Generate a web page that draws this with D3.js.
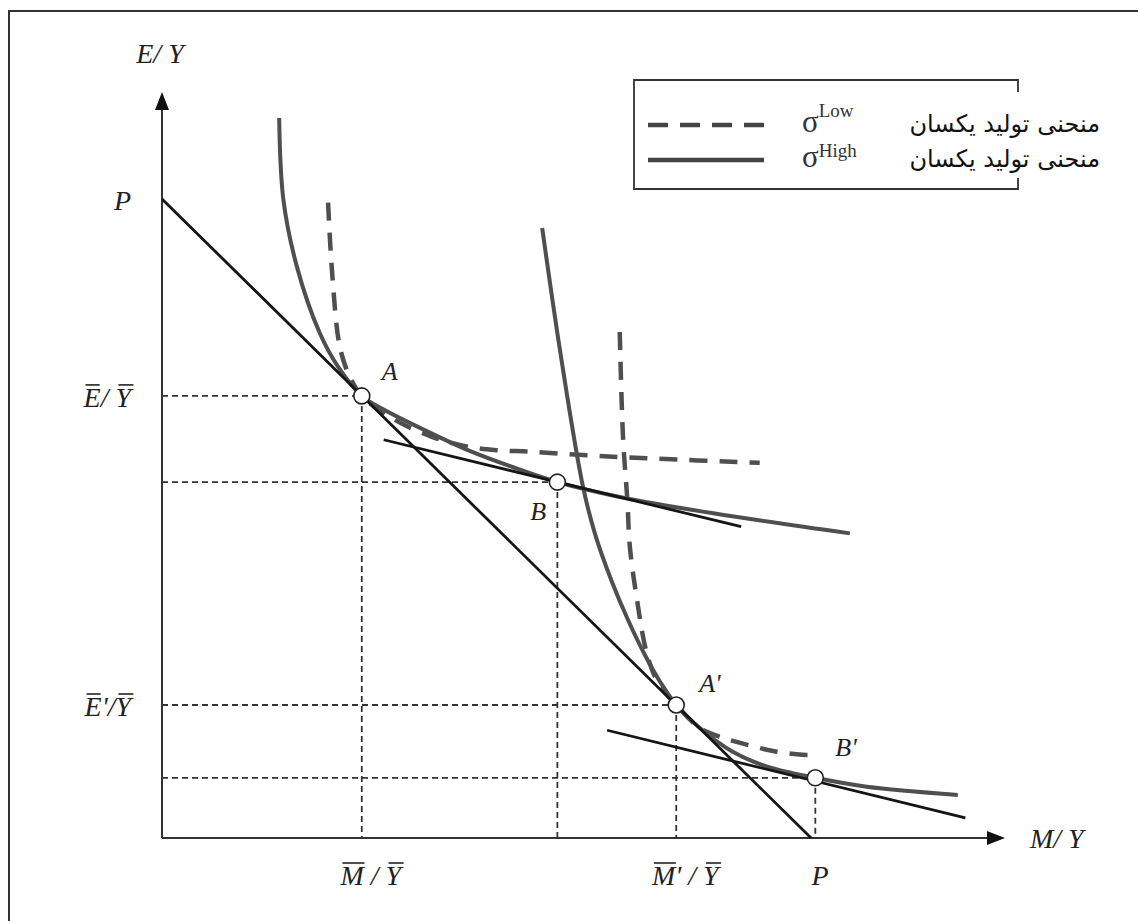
<!DOCTYPE html>
<html>
<head>
<meta charset="utf-8">
<script src="https://cdn.jsdelivr.net/npm/d3@7"></script>
<style>
  body { margin: 0; background: #fff; }
  svg text { font-family: "Liberation Serif", serif; }
</style>
</head>
<body>
<script>
const width = 1138;
const height = 921;

// diagram units: both axes run from 0 to 100
const highCurve1 = [[13.9,96.9],[14.4,85.9],[16.0,76.9],[18.7,68.0],[20.9,63.4],[23.7,59.5],
                    [25.9,57.9],[30.6,55.2],[36.5,52.1],[41.9,49.8],[46.9,47.9],[54.3,45.9],
                    [65.4,43.7],[81.6,41.0]];
const lowCurve1 = [[19.7,85.5],[20.2,75.8],[21.1,66.1],[22.3,62.0],[23.7,59.5],[27.6,56.3],
                   [31.8,54.1],[35.7,52.8],[39.7,52.2],[43.7,52.0],[50.4,51.5],[57.5,51.1],
                   [70.9,50.5]];
const highCurve2 = [[45.1,82.1],[47.3,65.0],[49.9,47.5],[51.4,40.8],[53.3,34.7],[55.3,29.3],
                    [57.3,24.6],[59.1,21.0],[61.0,17.9],[63.8,14.8],[67.7,11.6],[71.8,9.6],
                    [77.5,8.1],[83.6,6.9],[94.4,5.8]];
const lowCurve2 = [[54.3,68.1],[54.7,53.6],[55.2,45.5],[55.5,39.2],[56.3,32.4],[57.5,24.9],
                   [58.8,21.0],[61.0,17.9],[63.8,14.8],[66.2,13.6],[68.6,12.8],[72.5,11.7],
                   [76.0,11.2],[77.1,11.2]];
const budgetLine = [[0,86.0],[77.0,0]];
const tangentB = [[26.3,53.6],[68.7,41.9]];
const tangentB2 = [[52.8,14.5],[95.3,2.7]];

const points = [
  {name: "A",  x: 23.7, y: 59.5},
  {name: "B",  x: 46.9, y: 47.9},
  {name: "A'", x: 61.0, y: 17.9},
  {name: "B'", x: 77.5, y: 8.1}
];
const labelOffsets = {"A": [20, -16], "B": [-27, 38], "A'": [23, -13], "B'": [20, -22]};

const xTicks = [{x: 23.7, parts: [["M", true], [" / ", false], ["Y", true]]},
                {x: 61.0, parts: [["M", true], ["' / ", false], ["Y", true]]},
                {x: 77.0, parts: [["P", false]]}];
const yTicks = [{y: 59.5, parts: [["E", true], ["/ ", false], ["Y", true]]},
                {y: 17.9, parts: [["E", true], ["'/", false], ["Y", true]]},
                {y: 86.0, parts: [["P", false]]}];

const legendItems = [{dash: "20,12", sub: "Low",  raise: -15, text: "منحنی تولید یکسان"},
                     {dash: null,    sub: "High", raise: -10, text: "منحنی تولید یکسان"}];

const x = d3.scaleLinear().domain([0, 100]).range([162, 1005]);
const y = d3.scaleLinear().domain([0, 100]).range([838, 95]);

const svg = d3.select("body").append("svg")
    .attr("width", width)
    .attr("height", height);

// page frame
svg.append("path")
    .attr("d", `M9,${height} V11 H${width}`)
    .attr("fill", "none")
    .attr("stroke", "#333")
    .attr("stroke-width", 2);

// axes
svg.append("line")
    .attr("x1", x(0)).attr("y1", y(0))
    .attr("x2", x(0)).attr("y2", y(100) + 12)
    .attr("stroke", "#333").attr("stroke-width", 2);
svg.append("line")
    .attr("x1", x(0)).attr("y1", y(0))
    .attr("x2", x(100) - 12).attr("y2", y(0))
    .attr("stroke", "#333").attr("stroke-width", 2);
svg.append("path")
    .attr("d", `M${x(0)},${y(100) - 3} l-7,18 h14 z`)
    .attr("fill", "#111");
svg.append("path")
    .attr("d", `M${x(100)},${y(0)} l-18,-7 v14 z`)
    .attr("fill", "#111");

svg.append("text")
    .attr("x", x(0) - 2).attr("y", 63)
    .attr("text-anchor", "middle")
    .style("font-style", "italic").style("font-size", "28px")
    .attr("fill", "#222")
    .text("E/ Y");
svg.append("text")
    .attr("x", x(100) + 25).attr("y", y(0) + 10)
    .style("font-style", "italic").style("font-size", "28px")
    .attr("fill", "#222")
    .text("M/ Y");

// dashed guides from each point to the axes
const guides = svg.append("g")
    .attr("stroke", "#333")
    .attr("stroke-width", 1.8)
    .attr("stroke-dasharray", "6,4");
points.forEach(p => {
  guides.append("line")
      .attr("x1", x(0)).attr("y1", y(p.y))
      .attr("x2", x(p.x)).attr("y2", y(p.y));
  guides.append("line")
      .attr("x1", x(p.x)).attr("y1", y(p.y))
      .attr("x2", x(p.x)).attr("y2", y(0));
});

const curve = d3.line()
    .x(d => x(d[0]))
    .y(d => y(d[1]))
    .curve(d3.curveCatmullRom.alpha(0.5));
const straight = d3.line()
    .x(d => x(d[0]))
    .y(d => y(d[1]));

[lowCurve1, lowCurve2].forEach(c => {
  svg.append("path")
      .attr("d", curve(c))
      .attr("fill", "none")
      .attr("stroke", "#4f4f4f")
      .attr("stroke-width", 4.5)
      .attr("stroke-dasharray", "18,12");
});
[highCurve1, highCurve2].forEach(c => {
  svg.append("path")
      .attr("d", curve(c))
      .attr("fill", "none")
      .attr("stroke", "#4f4f4f")
      .attr("stroke-width", 4);
});
[budgetLine, tangentB, tangentB2].forEach(l => {
  svg.append("path")
      .attr("d", straight(l))
      .attr("fill", "none")
      .attr("stroke", "#151515")
      .attr("stroke-width", 2.8);
});

svg.selectAll("circle.pt")
  .data(points)
  .join("circle")
    .attr("class", "pt")
    .attr("cx", d => x(d.x))
    .attr("cy", d => y(d.y))
    .attr("r", 8)
    .attr("fill", "#fff")
    .attr("stroke", "#222")
    .attr("stroke-width", 1.6);

svg.selectAll("text.pt")
  .data(points)
  .join("text")
    .attr("class", "pt")
    .attr("x", d => x(d.x) + labelOffsets[d.name][0])
    .attr("y", d => y(d.y) + labelOffsets[d.name][1])
    .attr("text-anchor", "start")
    .style("font-style", "italic").style("font-size", "26px")
    .attr("fill", "#222")
    .text(d => d.name);

// italic labels with bars drawn over some letters
function barLabel(px, py, parts, anchor) {
  const t = svg.append("text")
      .attr("x", px).attr("y", py)
      .attr("text-anchor", anchor)
      .style("font-style", "italic").style("font-size", "28px")
      .attr("fill", "#222");
  const spans = parts.map(p => t.append("tspan").text(p[0]));
  parts.forEach((p, i) => {
    if (!p[1]) return;
    const b = spans[i].node().getBBox();
    svg.append("line")
        .attr("x1", b.x + 3).attr("x2", b.x + b.width - 1)
        .attr("y1", b.y + 3).attr("y2", b.y + 3)
        .attr("stroke", "#222").attr("stroke-width", 1.6);
  });
}
xTicks.forEach(d => barLabel(x(d.x) + 9, y(0) + 47, d.parts, "middle"));
yTicks.forEach(d => barLabel(x(0) - 31, y(d.y) + 11, d.parts, "end"));

// legend
const lg = svg.append("g");
const box = {x0: 634, y0: 80, x1: 1018, y1: 189};
lg.append("path")
    .attr("d", `M${box.x1},${box.y0 + 12} V${box.y0} H${box.x0} V${box.y1} H${box.x1} V${box.y1 - 11}`)
    .attr("fill", "none")
    .attr("stroke", "#333")
    .attr("stroke-width", 1.8);
legendItems.forEach((d, i) => {
  const ly = 125 + i * 35;
  lg.append("line")
      .attr("x1", 648).attr("x2", 764)
      .attr("y1", ly).attr("y2", ly)
      .attr("stroke", "#444")
      .attr("stroke-width", 4.5)
      .attr("stroke-dasharray", d.dash);
  const t = lg.append("text")
      .attr("x", 802).attr("y", ly + 7)
      .attr("fill", "#333")
      .style("font-size", "31px");
  t.append("tspan").text("σ");
  t.append("tspan")
      .attr("dy", d.raise)
      .style("font-size", "19px")
      .text(d.sub);
  lg.append("text")
      .attr("x", 1100).attr("y", ly + 7)
      .attr("text-anchor", "end")
      .style("font-family", "'DejaVu Sans', sans-serif")
      .style("font-size", "24px")
      .attr("fill", "#111")
      .text(d.text);
});
</script>
</body>
</html>
